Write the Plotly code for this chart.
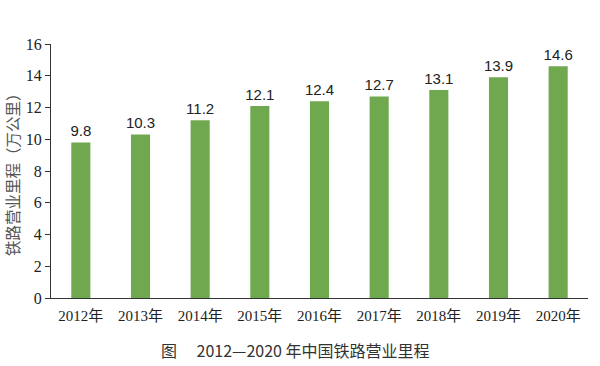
import plotly.graph_objects as go

years = ["2012年", "2013年", "2014年", "2015年", "2016年", "2017年", "2018年", "2019年", "2020年"]
mileage = [9.8, 10.3, 11.2, 12.1, 12.4, 12.7, 13.1, 13.9, 14.6]
y_ticks = [0, 2, 4, 6, 8, 10, 12, 14, 16]

fig = go.Figure(go.Bar(
    x=years, y=mileage,
    marker=dict(color="#6fa84f", line=dict(width=0)),
    text=[f"{v:.1f}" for v in mileage],
    textposition="outside",
    constraintext="none",
    textfont=dict(family="Liberation Sans, Arial, sans-serif", size=15, color="#222"),
    cliponaxis=False,
    hoverinfo="skip",
))

fig.update_layout(
    width=600, height=366,
    margin=dict(l=51, r=12, t=44, b=68, autoexpand=False),
    paper_bgcolor="white", plot_bgcolor="white",
    bargap=0.68,
    showlegend=False,
    font=dict(family="Liberation Serif, Times New Roman, serif", color="#222"),
)
fig.update_xaxes(
    showline=True, linecolor="#333", linewidth=1,
    ticks="", tickfont=dict(family="Liberation Serif, Noto Sans CJK SC, serif", size=15, color="#222"),
    ticklabelstandoff=4,
    showgrid=False, automargin=False,
)
fig.update_yaxes(
    range=[0, 16], tickvals=y_ticks,
    showline=True, linecolor="#333", linewidth=1,
    ticks="outside", ticklen=5, tickcolor="#333",
    tickfont=dict(family="Liberation Serif, serif", size=16, color="#222"),
    showgrid=False, zeroline=False, automargin=False,
)
fig.add_annotation(
    text="铁路营业里程（万公里）",
    xref="paper", yref="paper", x=0, y=0.5, xshift=-39, xanchor="center", yanchor="middle",
    textangle=-90, showarrow=False,
    font=dict(family="Noto Sans CJK SC", size=15.5, color="#555"),
)
fig.add_annotation(
    text="图\u3000 2012—2020 年中国铁路营业里程",
    xref="paper", yref="paper", x=0.4546, y=0, yshift=-52, xanchor="center", yanchor="middle",
    showarrow=False,
    font=dict(family="Noto Sans CJK SC", size=16, color="#333"),
)
fig.write_html("out.html", config={"displayModeBar": False},
               post_script="document.body.style.margin='0';")
